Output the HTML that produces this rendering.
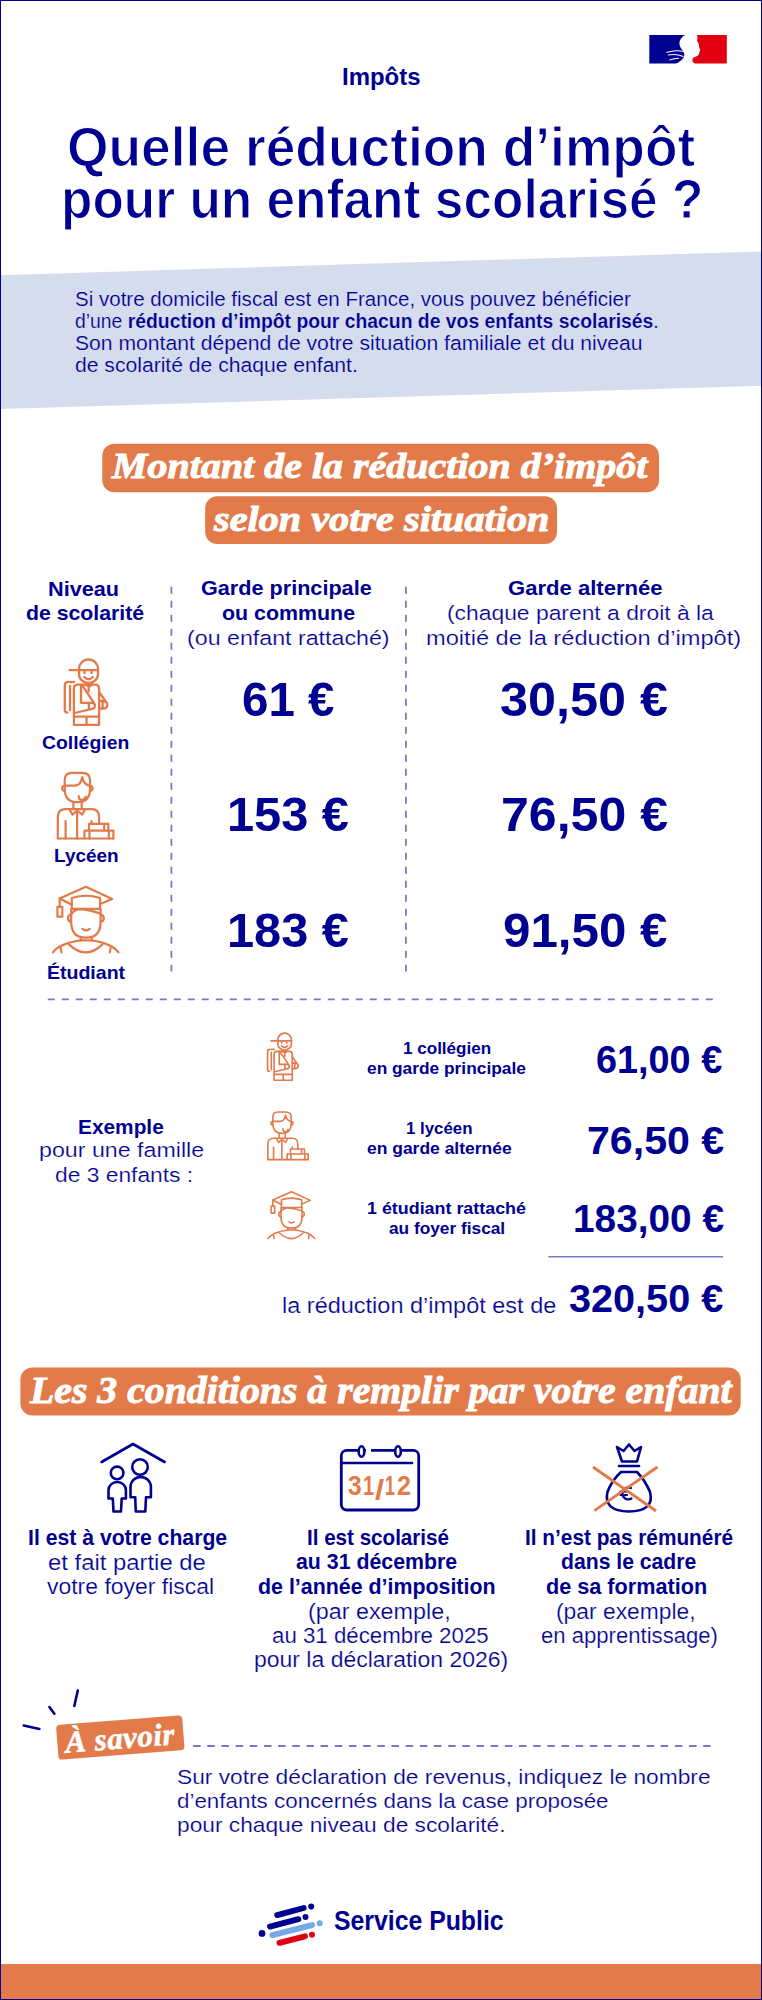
<!DOCTYPE html>
<html lang="fr"><head><meta charset="utf-8"><title>Quelle réduction d’impôt pour un enfant scolarisé ?</title>
<style>
html,body{margin:0;padding:0;background:#fff}
body{width:762px;height:2000px;position:relative;overflow:hidden;font-family:'Liberation Sans',sans-serif;color:#000091}
.t{position:absolute;white-space:nowrap;transform-origin:0 0}
b{font-weight:700}
svg{position:absolute;left:0;top:0}
.frame{position:absolute;left:0;top:0;width:760px;height:1998px;border:1px solid #000091}
</style></head><body>
<svg width="762" height="2000" viewBox="0 0 762 2000">
<polygon points="0,275.3 762,251.5 762,385.7 0,409" fill="#D5DCEE"/>
<g>
<path d="M649.3,35.1 H685.1 Q680,38 679.4,43 Q679.5,47.5 682.8,50.3 L684.5,54.5 Q684.5,57.5 681,60.5 Q678,63 675.5,63.6 H649.3 Z" fill="#000091"/>
<path d="M666.5,52.5 Q675,49.5 684,51.5 M668,55 Q676,53.5 683.5,56.5 M669.5,60 Q674,58.5 679,58.2" stroke="#fff" stroke-width="1.1" fill="none"/>
<path d="M697,35.1 H726.8 V63.6 H694.7 Q692,62 692.4,60 Q692.5,57.5 695.5,56.8 Q698.5,56 699,53.7 Q699.5,52 700.3,49.8 Q699,48 699.2,47 Q699,45 698.6,43.5 Q697.5,42 697,40.2 Q698,38.5 697,35.1 Z" fill="#E1000F"/>
</g>
<rect x="102.3" y="443.7" width="556.7" height="48.5" rx="12" fill="#E27A4A"/>
<rect x="205.2" y="496.2" width="351.8" height="47.8" rx="12" fill="#E27A4A"/>
<rect x="20.4" y="1367.6" width="720.3" height="47.9" rx="12" fill="#E27A4A"/>
<g stroke="#7878C8" stroke-width="1.8" stroke-dasharray="7 7" fill="none"><path d="M171.4,586.7 V971.5"/><path d="M405.9,586.7 V971.5"/><path d="M47.8,999.3 H713.5"/><path d="M193.1,1746 H710.5" stroke-dasharray="7.5 6.67"/></g>
<path d="M548.4,1256.8 H723" stroke="#7878C8" stroke-width="1.6"/>
<g transform="translate(55,652)"><g fill="none" stroke="#E27A4A" stroke-width="2.3" stroke-linecap="round" stroke-linejoin="round">
<path d="M24,17 A9.5,9.5 0 0 1 43,17 V22 A9.5,9 0 0 1 24,22 Z"/>
<path d="M14.6,18.1 H43"/>
<path d="M29.5,20 V21.2 M36.6,20 V21.2"/>
<path d="M29.3,25 Q33.5,29.5 37.8,25"/>
<path d="M30.5,32 Q33.7,37 37,32 M33.7,36 V39.5"/>
<path d="M18.9,72.8 V36.7 Q18.9,32.7 22.9,32.7 H40.1 Q44.1,32.7 44.1,36.7 V72.8 Z"/>
<path d="M18.9,64.6 H44.1 M31.5,64.6 V72.8"/>
<path d="M26.8,32.7 L38.6,50.4 M26,34 V50.8 H37 A3,3 0 0 1 37,56.8 L19.5,61 M33.9,51 V56.5"/>
<path d="M44.1,40 L51,50 M44.1,49 H48.5 A3.8,3.8 0 0 1 48.5,56.7 H44.1 M47.6,49.5 V56"/>
<path d="M13,30 Q9.8,30 9.8,33.5 V58 Q9.8,60.6 12.5,60.6 M15,33.9 V58.3"/><path d="M15,30 H19" stroke-dasharray="1.6 1.4"/>
</g></g>
<g transform="translate(50,765)"><g fill="none" stroke="#E27A4A" stroke-width="2.2" stroke-linecap="round" stroke-linejoin="round">
<path d="M14.7,20.7 V24 Q14.7,37.2 27.4,37.2 Q40,37.2 40,24 V15 Q40,7.8 32,7.8 H22 Q14.7,7.8 14.7,15 Z"/>
<path d="M14.7,20.7 H24.5 Q31,20.7 32.2,12 Q33.5,19.5 40,21"/>
<path d="M14.7,20.8 A2.6,2.6 0 0 0 14.7,26 M40,20.8 A2.6,2.6 0 0 1 40,26"/>
<path d="M28.7,31 Q28.7,35 31.5,35 Q34.5,35 35.7,31.8"/>
<path d="M23.4,37.2 V44.1 M31.7,37.2 V44.1"/>
<path d="M7.8,73.5 V52 Q7.8,44.1 15.5,44.1 H41.5 Q49.1,44.1 49.1,52 V58.8"/>
<path d="M7.8,73.5 H63.4"/>
<path d="M19.5,44.5 L22.5,49.6 L27.1,45.5 L32.2,49.6 L35,44.5"/>
<path d="M27.1,46 V73.5 M15.6,56 V73.5"/>
<path d="M39,65.7 V58.8 H58.3 V65.7 M34.4,73.5 V65.7 H63.4 V73.5 M54.2,58.8 V65.7 M39.5,65.7 V73.5 M58.8,65.7 V73.5 M41.5,56 V58.8"/>
</g></g>
<g transform="translate(45,880)"><g fill="none" stroke="#E27A4A" stroke-width="2.2" stroke-linecap="round" stroke-linejoin="round">
<path d="M26.8,24.7 L14.7,18.4 L40.9,6.8 L67.2,18.9 L55.1,24.1"/>
<path d="M26.8,28.9 V18 Q41,13.5 55.1,18 V28.9 Z"/>
<path d="M14.7,18.4 V26.8"/><rect x="12.4" y="26.8" width="4.9" height="9.9"/>
<path d="M26.8,33.6 Q30,29.4 34.6,29.4 Q45,29.6 55.1,33.6"/>
<path d="M26.2,29 V42 Q26.2,57.7 40.9,57.7 Q55.6,57.7 55.6,42 V29"/>
<path d="M26.2,34.5 A3.8,3.8 0 0 0 26.2,42 M55.6,34.5 A3.8,3.8 0 0 1 55.6,42"/>
<path d="M37.3,48.8 Q40.9,52 44.6,48.8"/>
<path d="M35.7,57.7 V60.4 M46.7,57.7 V60.4"/>
<path d="M7.9,72.4 Q14,63.5 35.7,60.4 H46.7 Q67,63.5 73.5,72.4"/>
<path d="M24.1,64.6 Q40.9,80.2 57.2,64.6"/>
<path d="M15.7,68 L16.5,72.4 M65.6,68 L64.8,72.4"/>
</g></g>
<g transform="translate(260.5,1027.8) scale(0.72)"><g fill="none" stroke="#E27A4A" stroke-width="2.3" stroke-linecap="round" stroke-linejoin="round">
<path d="M24,17 A9.5,9.5 0 0 1 43,17 V22 A9.5,9 0 0 1 24,22 Z"/>
<path d="M14.6,18.1 H43"/>
<path d="M29.5,20 V21.2 M36.6,20 V21.2"/>
<path d="M29.3,25 Q33.5,29.5 37.8,25"/>
<path d="M30.5,32 Q33.7,37 37,32 M33.7,36 V39.5"/>
<path d="M18.9,72.8 V36.7 Q18.9,32.7 22.9,32.7 H40.1 Q44.1,32.7 44.1,36.7 V72.8 Z"/>
<path d="M18.9,64.6 H44.1 M31.5,64.6 V72.8"/>
<path d="M26.8,32.7 L38.6,50.4 M26,34 V50.8 H37 A3,3 0 0 1 37,56.8 L19.5,61 M33.9,51 V56.5"/>
<path d="M44.1,40 L51,50 M44.1,49 H48.5 A3.8,3.8 0 0 1 48.5,56.7 H44.1 M47.6,49.5 V56"/>
<path d="M13,30 Q9.8,30 9.8,33.5 V58 Q9.8,60.6 12.5,60.6 M15,33.9 V58.3"/><path d="M15,30 H19" stroke-dasharray="1.6 1.4"/>
</g></g>
<g transform="translate(262.25,1106.4) scale(0.724)"><g fill="none" stroke="#E27A4A" stroke-width="2.2" stroke-linecap="round" stroke-linejoin="round">
<path d="M14.7,20.7 V24 Q14.7,37.2 27.4,37.2 Q40,37.2 40,24 V15 Q40,7.8 32,7.8 H22 Q14.7,7.8 14.7,15 Z"/>
<path d="M14.7,20.7 H24.5 Q31,20.7 32.2,12 Q33.5,19.5 40,21"/>
<path d="M14.7,20.8 A2.6,2.6 0 0 0 14.7,26 M40,20.8 A2.6,2.6 0 0 1 40,26"/>
<path d="M28.7,31 Q28.7,35 31.5,35 Q34.5,35 35.7,31.8"/>
<path d="M23.4,37.2 V44.1 M31.7,37.2 V44.1"/>
<path d="M7.8,73.5 V52 Q7.8,44.1 15.5,44.1 H41.5 Q49.1,44.1 49.1,52 V58.8"/>
<path d="M7.8,73.5 H63.4"/>
<path d="M19.5,44.5 L22.5,49.6 L27.1,45.5 L32.2,49.6 L35,44.5"/>
<path d="M27.1,46 V73.5 M15.6,56 V73.5"/>
<path d="M39,65.7 V58.8 H58.3 V65.7 M34.4,73.5 V65.7 H63.4 V73.5 M54.2,58.8 V65.7 M39.5,65.7 V73.5 M58.8,65.7 V73.5 M41.5,56 V58.8"/>
</g></g>
<g transform="translate(262.3,1186.9) scale(0.714)"><g fill="none" stroke="#E27A4A" stroke-width="2.2" stroke-linecap="round" stroke-linejoin="round">
<path d="M26.8,24.7 L14.7,18.4 L40.9,6.8 L67.2,18.9 L55.1,24.1"/>
<path d="M26.8,28.9 V18 Q41,13.5 55.1,18 V28.9 Z"/>
<path d="M14.7,18.4 V26.8"/><rect x="12.4" y="26.8" width="4.9" height="9.9"/>
<path d="M26.8,33.6 Q30,29.4 34.6,29.4 Q45,29.6 55.1,33.6"/>
<path d="M26.2,29 V42 Q26.2,57.7 40.9,57.7 Q55.6,57.7 55.6,42 V29"/>
<path d="M26.2,34.5 A3.8,3.8 0 0 0 26.2,42 M55.6,34.5 A3.8,3.8 0 0 1 55.6,42"/>
<path d="M37.3,48.8 Q40.9,52 44.6,48.8"/>
<path d="M35.7,57.7 V60.4 M46.7,57.7 V60.4"/>
<path d="M7.9,72.4 Q14,63.5 35.7,60.4 H46.7 Q67,63.5 73.5,72.4"/>
<path d="M24.1,64.6 Q40.9,80.2 57.2,64.6"/>
<path d="M15.7,68 L16.5,72.4 M65.6,68 L64.8,72.4"/>
</g></g>
<g fill="none" stroke="#000091" stroke-width="2.6" stroke-linecap="round" stroke-linejoin="round">
<path d="M101.6,1462 L133,1444 L164.6,1462"/>
<circle cx="117.1" cy="1472.9" r="6.3"/>
<path d="M112.8,1498.5 H108.5 V1490 A8.7,8 0 0 1 125.9,1490 V1498.5 H121.7 L121,1511.5 H113.5 Z"/>
<circle cx="140" cy="1467" r="7.8"/>
<path d="M135.2,1497.3 H130.5 V1487 A10.2,10 0 0 1 150.9,1487 V1497.3 H146 L145.3,1511.5 H135.8 Z"/>
</g>
<g fill="none" stroke="#000091" stroke-width="2.6" stroke-linecap="round" stroke-linejoin="round">
<rect x="341.3" y="1450.3" width="77.4" height="59.7" rx="5.5" stroke-width="2.8"/>
<path d="M366,1450.3 H371" stroke="#fff" stroke-width="3.5" stroke-linecap="butt"/>
<path d="M341.3,1463 H412"/>
<ellipse cx="361.5" cy="1451.5" rx="2.8" ry="5.3" fill="#fff"/>
<ellipse cx="398" cy="1451.5" rx="2.8" ry="5.3" fill="#fff"/>
</g>
<g fill="none" stroke="#000091" stroke-width="2.6" stroke-linecap="round" stroke-linejoin="round">
<path d="M622,1461.5 L617,1447 L623.5,1451 L629,1444.5 L634.5,1451 L641,1447 L637,1461.5 Z"/>
<path d="M619,1466 H639"/>
<path d="M621,1472 H637 Q645,1480 650,1492 Q655,1511 629,1511.5 Q603,1511 607.5,1492 Q612,1480 621,1472 Z"/>
<path d="M631,1488 A6,6 0 1 0 631.5,1498.5 M620.5,1491.5 H627 M620.5,1495 H627" stroke-width="2.2"/>
</g>
<path d="M593,1467 L656,1511 M657.4,1467 L594.4,1510.7" stroke="#E27A4A" stroke-width="2.8" stroke-linecap="butt"/>
<path d="M23.7,1725.6 L39.4,1729 M49.4,1707 L54.4,1713.7 M77.8,1690.5 L74.3,1706" stroke="#000091" stroke-width="2.6" stroke-linecap="round"/>
<g transform="translate(120.3,1737.5) rotate(-4.5)"><rect x="-63.2" y="-17.5" width="126.4" height="35" rx="4" fill="#E27A4A"/></g>
<g stroke-linecap="round" stroke-width="5.9" fill="none">
<path d="M277.2,1915.1 L303.7,1908 M270,1926.6 L298.4,1919.2" stroke="#000091"/>
<path d="M272.4,1935.2 L312,1925.1" stroke="#74AAE6"/>
<path d="M279.5,1942.8 L305,1936.3" stroke="#E1000F"/>
</g>
<g stroke="none">
<circle cx="311.2" cy="1906.5" r="3" fill="#000091"/><circle cx="305.5" cy="1917" r="3" fill="#000091"/><circle cx="262" cy="1933.4" r="3.4" fill="#000091"/>
<circle cx="319.7" cy="1923.3" r="3" fill="#74AAE6"/><circle cx="312" cy="1934.8" r="3" fill="#E1000F"/>
</g>
<rect x="0" y="1964" width="762" height="36" fill="#E27A4A"/>
</svg>
<div class="t" style="left:342.1px;top:66.2px;font-size:23px;line-height:23px;transform:scaleX(1.0417);font-weight:700">Impôts</div>
<div class="t" style="left:66.5px;top:119.6px;font-size:55px;line-height:55px;transform:scaleX(0.9699);font-weight:700;-webkit-text-stroke:1.2px #fff">Quelle réduction d’impôt</div>
<div class="t" style="left:60.7px;top:172.1px;font-size:55px;line-height:55px;transform:scaleX(0.9341);font-weight:700;-webkit-text-stroke:1.2px #fff">pour un enfant scolarisé ?</div>
<div class="t" style="left:75.3px;top:288.5px;font-size:20px;line-height:20px;transform:scaleX(1.0267);-webkit-text-stroke:0.2px #D5DCEE">Si votre domicile fiscal est en France, vous pouvez bénéficier</div>
<div class="t" style="left:75.3px;top:311.0px;font-size:20px;line-height:20px;transform:scaleX(0.9672);-webkit-text-stroke:0.2px #D5DCEE">d’une <b>réduction d’impôt pour chacun de vos enfants scolarisés</b>.</div>
<div class="t" style="left:75.2px;top:333.3px;font-size:20px;line-height:20px;transform:scaleX(1.0570);-webkit-text-stroke:0.2px #D5DCEE">Son montant dépend de votre situation familiale et du niveau</div>
<div class="t" style="left:75.2px;top:355.4px;font-size:20px;line-height:20px;transform:scaleX(1.0555);-webkit-text-stroke:0.2px #D5DCEE">de scolarité de chaque enfant.</div>
<div class="t" style="left:112.0px;top:448.3px;font-size:36px;line-height:36px;transform:scaleX(1.1106);font-weight:700;font-style:italic;font-family:'Liberation Serif', serif;color:#fff;-webkit-text-stroke:1.0px #fff">Montant de la réduction d’impôt</div>
<div class="t" style="left:214.4px;top:500.8px;font-size:36px;line-height:36px;transform:scaleX(1.1178);font-weight:700;font-style:italic;font-family:'Liberation Serif', serif;color:#fff;-webkit-text-stroke:1.0px #fff">selon votre situation</div>
<div class="t" style="left:47.8px;top:578.5px;font-size:20.5px;line-height:20.5px;transform:scaleX(1.0569);font-weight:700">Niveau</div>
<div class="t" style="left:26.3px;top:602.9px;font-size:20.5px;line-height:20.5px;transform:scaleX(1.0366);font-weight:700">de scolarité</div>
<div class="t" style="left:200.6px;top:577.5px;font-size:20.5px;line-height:20.5px;transform:scaleX(1.0550);font-weight:700">Garde principale</div>
<div class="t" style="left:222.3px;top:602.7px;font-size:20.5px;line-height:20.5px;transform:scaleX(1.0429);font-weight:700">ou commune</div>
<div class="t" style="left:186.9px;top:628.0px;font-size:20.5px;line-height:20.5px;transform:scaleX(1.1322);-webkit-text-stroke:0.2px #fff">(ou enfant rattaché)</div>
<div class="t" style="left:507.7px;top:577.5px;font-size:20.5px;line-height:20.5px;transform:scaleX(1.0768);font-weight:700">Garde alternée</div>
<div class="t" style="left:446.6px;top:602.7px;font-size:20.5px;line-height:20.5px;transform:scaleX(1.1147);-webkit-text-stroke:0.2px #fff">(chaque parent a droit à la</div>
<div class="t" style="left:426.3px;top:628.0px;font-size:20.5px;line-height:20.5px;transform:scaleX(1.1524);-webkit-text-stroke:0.2px #fff">moitié de la réduction d’impôt)</div>
<div class="t" style="left:242.0px;top:675.0px;font-size:49px;line-height:49px;transform:scaleX(0.9685);font-weight:700">61 €</div>
<div class="t" style="left:500.2px;top:675.0px;font-size:49px;line-height:49px;transform:scaleX(1.0273);font-weight:700">30,50 €</div>
<div class="t" style="left:226.7px;top:790.2px;font-size:49px;line-height:49px;transform:scaleX(0.9941);font-weight:700">153 €</div>
<div class="t" style="left:501.0px;top:790.2px;font-size:49px;line-height:49px;transform:scaleX(1.0219);font-weight:700">76,50 €</div>
<div class="t" style="left:226.7px;top:905.6px;font-size:49px;line-height:49px;transform:scaleX(0.9941);font-weight:700">183 €</div>
<div class="t" style="left:503.0px;top:905.6px;font-size:49px;line-height:49px;transform:scaleX(1.0063);font-weight:700">91,50 €</div>
<div class="t" style="left:42.3px;top:734.3px;font-size:18.5px;line-height:18.5px;transform:scaleX(1.0481);font-weight:700">Collégien</div>
<div class="t" style="left:53.8px;top:847.4px;font-size:18.5px;line-height:18.5px;transform:scaleX(1.0246);font-weight:700">Lycéen</div>
<div class="t" style="left:46.9px;top:963.6px;font-size:18.5px;line-height:18.5px;transform:scaleX(1.0548);font-weight:700">Étudiant</div>
<div class="t" style="left:78.1px;top:1116.6px;font-size:20.5px;line-height:20.5px;transform:scaleX(1.0169);font-weight:700">Exemple</div>
<div class="t" style="left:38.8px;top:1140.2px;font-size:20.5px;line-height:20.5px;transform:scaleX(1.1319);-webkit-text-stroke:0.2px #fff">pour une famille</div>
<div class="t" style="left:54.9px;top:1165.0px;font-size:20.5px;line-height:20.5px;transform:scaleX(1.1124);-webkit-text-stroke:0.2px #fff">de 3 enfants :</div>
<div class="t" style="left:402.7px;top:1039.6px;font-size:16.5px;line-height:16.5px;transform:scaleX(1.0337);font-weight:700">1 collégien</div>
<div class="t" style="left:367.2px;top:1060.2px;font-size:16.5px;line-height:16.5px;transform:scaleX(1.0500);font-weight:700">en garde principale</div>
<div class="t" style="left:406.2px;top:1119.6px;font-size:16.5px;line-height:16.5px;transform:scaleX(1.0206);font-weight:700">1 lycéen</div>
<div class="t" style="left:367.2px;top:1140.4px;font-size:16.5px;line-height:16.5px;transform:scaleX(1.0585);font-weight:700">en garde alternée</div>
<div class="t" style="left:367.2px;top:1199.6px;font-size:16.5px;line-height:16.5px;transform:scaleX(1.0834);font-weight:700">1 étudiant rattaché</div>
<div class="t" style="left:388.5px;top:1220.4px;font-size:16.5px;line-height:16.5px;transform:scaleX(1.0468);font-weight:700">au foyer fiscal</div>
<div class="t" style="left:596.2px;top:1040.5px;font-size:38px;line-height:38px;transform:scaleX(0.9952);font-weight:700">61,00 €</div>
<div class="t" style="left:586.6px;top:1121.5px;font-size:38px;line-height:38px;transform:scaleX(1.0823);font-weight:700">76,50 €</div>
<div class="t" style="left:573.0px;top:1200.3px;font-size:38px;line-height:38px;transform:scaleX(1.0207);font-weight:700">183,00 €</div>
<div class="t" style="left:281.8px;top:1295.6px;font-size:21.5px;line-height:21.5px;transform:scaleX(1.0928);-webkit-text-stroke:0.2px #fff">la réduction d’impôt est de</div>
<div class="t" style="left:569.2px;top:1280.0px;font-size:38px;line-height:38px;transform:scaleX(1.0425);font-weight:700">320,50 €</div>
<div class="t" style="left:29.5px;top:1370.9px;font-size:38.5px;line-height:38.5px;transform:scaleX(1.0331);font-weight:700;font-style:italic;font-family:'Liberation Serif', serif;color:#fff;-webkit-text-stroke:1.0px #fff">Les 3 conditions à remplir par votre enfant</div>
<div class="t" style="left:28.2px;top:1527.5px;font-size:21.5px;line-height:21.5px;transform:scaleX(0.9860);font-weight:700">Il est à votre charge</div>
<div class="t" style="left:48.3px;top:1552.7px;font-size:21.5px;line-height:21.5px;transform:scaleX(1.1100);-webkit-text-stroke:0.2px #fff">et fait partie de</div>
<div class="t" style="left:47.4px;top:1576.6px;font-size:21.5px;line-height:21.5px;transform:scaleX(1.0671);-webkit-text-stroke:0.2px #fff">votre foyer fiscal</div>
<div class="t" style="left:307.0px;top:1527.8px;font-size:21.5px;line-height:21.5px;transform:scaleX(0.9578);font-weight:700">Il est scolarisé</div>
<div class="t" style="left:296.4px;top:1552.0px;font-size:21.5px;line-height:21.5px;transform:scaleX(0.9913);font-weight:700">au 31 décembre</div>
<div class="t" style="left:258.2px;top:1576.7px;font-size:21.5px;line-height:21.5px;transform:scaleX(0.9941);font-weight:700">de l’année d’imposition</div>
<div class="t" style="left:307.7px;top:1601.5px;font-size:21.5px;line-height:21.5px;transform:scaleX(1.0853);-webkit-text-stroke:0.2px #fff">(par exemple,</div>
<div class="t" style="left:272.3px;top:1626.3px;font-size:21.5px;line-height:21.5px;transform:scaleX(1.0357);-webkit-text-stroke:0.2px #fff">au 31 décembre 2025</div>
<div class="t" style="left:253.9px;top:1650.0px;font-size:21.5px;line-height:21.5px;transform:scaleX(1.0686);-webkit-text-stroke:0.2px #fff">pour la déclaration 2026)</div>
<div class="t" style="left:525.0px;top:1527.6px;font-size:21.5px;line-height:21.5px;transform:scaleX(0.9673);font-weight:700">Il n’est pas rémunéré</div>
<div class="t" style="left:561.2px;top:1552.0px;font-size:21.5px;line-height:21.5px;transform:scaleX(0.9846);font-weight:700">dans le cadre</div>
<div class="t" style="left:545.5px;top:1576.7px;font-size:21.5px;line-height:21.5px;transform:scaleX(1.0063);font-weight:700">de sa formation</div>
<div class="t" style="left:556.4px;top:1601.5px;font-size:21.5px;line-height:21.5px;transform:scaleX(1.0620);-webkit-text-stroke:0.2px #fff">(par exemple,</div>
<div class="t" style="left:540.8px;top:1626.3px;font-size:21.5px;line-height:21.5px;transform:scaleX(1.0282);-webkit-text-stroke:0.2px #fff">en apprentissage)</div>
<div class="t" style="left:177.1px;top:1765.6px;font-size:21px;line-height:21px;transform:scaleX(1.0831);-webkit-text-stroke:0.2px #fff">Sur votre déclaration de revenus, indiquez le nombre</div>
<div class="t" style="left:177.1px;top:1789.6px;font-size:21px;line-height:21px;transform:scaleX(1.0653);-webkit-text-stroke:0.2px #fff">d’enfants concernés dans la case proposée</div>
<div class="t" style="left:177.1px;top:1813.5px;font-size:21px;line-height:21px;transform:scaleX(1.0824);-webkit-text-stroke:0.2px #fff">pour chaque niveau de scolarité.</div>
<div class="t" style="left:333.6px;top:1908.0px;font-size:27px;line-height:27px;transform:scaleX(0.9186);font-weight:700">Service Public</div>
<div class="t" style="left:348.1px;top:1473.2px;font-size:27px;line-height:27px;transform:scaleX(0.9077);font-weight:700;color:#E27A4A">3</div>
<div class="t" style="left:362.9px;top:1473.2px;font-size:27px;line-height:27px;transform:scaleX(0.7417);font-weight:700;color:#E27A4A">1</div>
<div class="t" style="left:375.3px;top:1476.5px;font-size:27px;line-height:27px;transform:scaleX(1.2143);font-weight:700;color:#E27A4A">/</div>
<div class="t" style="left:385.1px;top:1473.2px;font-size:27px;line-height:27px;transform:scaleX(0.6583);font-weight:700;color:#E27A4A">1</div>
<div class="t" style="left:397.3px;top:1473.2px;font-size:27px;line-height:27px;transform:scaleX(0.9308);font-weight:700;color:#E27A4A">2</div>
<div class="t" style="left:120.3px;top:1737.5px;transform:translate(-50%,-50%) rotate(-4.5deg);transform-origin:50% 50%;font-family:'Liberation Serif',serif;font-style:italic;font-weight:700;font-size:31px;line-height:35px;color:#fff;letter-spacing:0.5px;-webkit-text-stroke:0.6px #fff">À savoir</div>
<div class="frame"></div>
</body></html>
